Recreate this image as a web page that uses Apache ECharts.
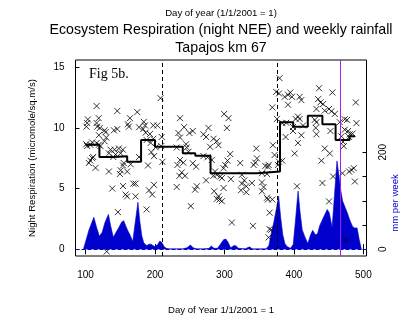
<!DOCTYPE html>
<html><head><meta charset="utf-8">
<script src="https://cdn.jsdelivr.net/npm/echarts@6/dist/echarts.min.js"></script>
<style>html,body{margin:0;padding:0;background:#fff}#c{width:414px;height:320px}</style>
</head><body><div id="c"></div>
<script>
// ---- data ----
const xTicks = [100, 200, 300, 400, 500];
const respTicks = [0, 5, 10, 15];
const rainTicks = [0, 50, 100, 150, 200];
const rainLabelTicks = [0, 200];
const dashedDays = [210.5, 375.6];
const purpleDays = [466];

const respDay = [208,116,145.7,174.5,103.4,119,164,102.4,116,184,161,101.4,116.8,120.7,185.6,197.6,203.4,162.5,127.4,128.9,145.7,140.9,177,183,186.6,119.2,192.8,209.7,197.6,188,129.8,127.4,193.8,102.4,109.6,116,119.2,107,101,121.6,209,201,136,141.8,148,153.8,150.5,133.7,143.3,194.8,198.6,111,109.6,140,107,104.8,114.4,155,154,165,190,210.7,177,133.7,150.5,160,149.5,138.5,154,168.8,172,198.6,191.4,196,157.7,160,172,146.7,188,130.5,
299.6,305.9,236.1,241.9,254.4,249.6,233.7,303.5,277,269.8,273.6,236.1,284.2,289,291.4,279.4,244.8,231.3,245.7,345.8,248.2,308.3,269.8,275.6,281.8,346.8,304.4,322.7,236.1,240.9,254.4,259.2,301,298.7,342,344.4,358.8,363.6,232.3,238.5,243.3,235.2,286.6,289,293.9,296.3,284.2,325.1,354,361.2,273.6,309.2,328.5,325.1,339.5,331.4,354,356.4,231.3,260.2,257.8,285.2,298.7,323.7,331.4,354,361.2,291.4,296.3,292.9,289,251.5,365,310.7,341,365,363.6,
379.4,374.6,378.5,436.2,455.4,394.8,391.5,386.7,408.3,397.2,410.7,434.8,438.1,442,391.5,489.1,368.9,432.4,450.6,454,458.8,444.4,375.6,405.9,402.5,408.3,430,473.2,476.6,432.4,466,490,383.3,389,413.1,398.7,431.4,452.6,473.2,432.4,398.7,410.7,388.1,478,480.4,484.3,479.5,468.4,470.8,471.8,405.9,369.8,444.4,451.6,401.1,372.2,439.6,378.5,383.3,377,362.6,469.9,479.5,482.9,486.2,456.4,487.7,441,404.5,362.6,368.9,450.6,367.4,474.7];
const respVal = [12.45,11.8,11.4,11.3,10.7,10.8,10.8,10.4,10.4,10.5,10.3,10.1,10.1,10.0,10.2,10.2,10.2,10.1,9.8,9.65,9.9,9.8,10.05,9.9,9.6,9.4,9.5,9.25,9.1,9.0,9.2,8.9,8.76,8.5,8.8,8.75,8.6,8.6,8.65,8.5,8.5,8.4,8.2,8.2,8.3,8.2,7.9,7.9,7.8,8.0,7.67,7.6,7.5,7.6,7.3,7.1,6.7,7.1,6.9,7.0,6.9,7.2,7.6,6.4,6.5,6.4,6.2,5.0,5.2,5.4,5.4,5.3,4.85,4.5,4.5,4.35,4.35,3.05,3.27,-0.2,
11.15,10.8,10.8,10.06,9.74,9.58,9.58,9.99,10.0,9.47,9.25,9.2,9.1,8.9,8.57,8.44,8.65,8.38,8.38,8.3,8.03,7.84,7.67,7.57,7.35,7.48,7.3,7.1,7.35,7.13,7.08,6.8,6.94,6.67,6.94,7.13,6.86,6.94,6.94,6.32,6.05,6.05,6.4,6.13,5.99,5.86,6.05,6.13,6.26,6.2,5.67,5.77,5.67,5.4,5.45,5.18,5.5,5.12,5.12,5.18,4.9,4.77,5.04,4.85,4.69,4.77,4.23,4.36,3.95,4.09,4.14,3.55,3.0,2.19,1.92,1.64,0.96,
14.1,12.97,12.84,13.27,12.92,12.92,12.73,12.56,12.56,12.56,12.29,12.37,12.1,11.97,11.91,12.1,11.69,11.56,11.56,11.37,11.15,11.42,10.74,10.93,10.74,10.74,10.66,10.71,10.66,10.47,10.47,10.39,10.39,10.42,10.2,10.07,10.0,9.74,9.85,9.47,9.74,9.39,9.25,9.74,9.47,9.52,9.25,9.3,8.84,8.49,8.76,8.57,8.3,7.89,7.89,7.76,7.29,7.21,7.29,6.94,6.8,6.26,6.4,6.53,6.67,5.99,5.58,5.45,5.18,4.09,4.09,3.93,1.59,0.77];

const stepDay = [100,120,140,160,180,200,240,258,280,347,380,399,420,441,460,480,488];
const stepVal = [8.6,7.6,7.65,7.2,9.0,8.45,7.9,7.7,6.25,6.4,10.47,10.1,11.0,10.3,9.0,9.3,9.3];

const rainDay = [97,100,105,112,116,120,124,128,133,136,140,144,148,152,155,158,161,164,168,172,175.5,178,181,184,188,193,196,200,204,207,210,213,216,220,230,240,246,251,255,260,270,278,281,285,290,295,299,302,305,309,314,317,320,330,336,340,350,360,364,367,371,375,378,381,384,387,390,395,399,402,406,409,412,416,420,424,427,431,434,437,440,444,448,451,455,462,465,467,470,473,477,480,484,487,491,494,497,498];
const rainMm = [0,15,40,66,45,27,35,55,72,50,25,35,45,56,59,48,38,30,16,60,97,60,28,13,8,11,9,5,10,17,14,6,2,1,1,1,3,9,3,1,1,2,7,2,2,12,20,21,15,3,8,7,2,1,5,1,1,1,8,30,55,85,110,65,30,12,6,2,10,55,120,75,40,25,12,30,39,30,32,48,58,70,82,75,45,182,150,126,100,89,75,62,48,44,44,20,1,0];

// ---- chart ----
const FONT = '"Liberation Sans", Arial, sans-serif';
const zip = (a, b) => a.map((v, i) => [v, b[i]]);
const chart = echarts.init(document.getElementById('c'), null, {renderer: 'canvas'});
const X0 = 75.5, X1 = 366.5, Y0 = 60, Y1 = 258.5;
const txt = {color: '#000', fontFamily: FONT, fontSize: 10};

chart.setOption({
  animation: false,
  backgroundColor: '#fff',
  grid: {left: X0, right: 414 - X1, top: Y0, bottom: 320 - Y1, show: true,
         borderColor: '#000', borderWidth: 1, backgroundColor: 'transparent'},
  xAxis: [{
    type: 'value', position: 'bottom', min: 85.6, max: 504.5,
    axisLine: {show: false}, splitLine: {show: false},
    axisTick: {show: true, inside: true, length: 5, customValues: xTicks, lineStyle: {color: '#000'}},
    axisLabel: Object.assign({customValues: xTicks, margin: 14}, txt),
    name: 'Day of Year 1/1/2001 = 1', nameLocation: 'middle', nameGap: 49,
    nameTextStyle: Object.assign({}, txt, {fontSize: 9.6})
  }, {
    type: 'value', position: 'top', min: 85.6, max: 504.5,
    axisLine: {show: false}, splitLine: {show: false},
    axisTick: {show: true, inside: true, length: 5, customValues: xTicks, lineStyle: {color: '#000'}},
    axisLabel: {show: false}
  }],
  yAxis: [{
    type: 'value', position: 'left', min: -0.57, max: 15.6,
    axisLine: {show: false}, splitLine: {show: false},
    axisTick: {show: true, inside: true, length: 4, customValues: respTicks, lineStyle: {color: '#000'}},
    axisLabel: Object.assign({customValues: respTicks, margin: 11}, txt),
    name: 'Night Respiration (micromole/sq.m/s)', nameLocation: 'middle', nameGap: 38,
    nameTextStyle: Object.assign({}, txt, {fontSize: 9.6})
  }, {
    type: 'value', position: 'right', min: -13.8, max: 390,
    axisLine: {show: false}, splitLine: {show: false},
    axisTick: {show: true, inside: true, length: 4, customValues: rainTicks, lineStyle: {color: '#000'}},
    axisLabel: Object.assign({customValues: rainLabelTicks, margin: 12, rotate: 90,
      showMinLabel: true, showMaxLabel: true, hideOverlap: false}, txt)
  }],
  graphic: [
    {type: 'text', x: 221, y: 13, style: {text: 'Day of year (1/1/2001 = 1)', align: 'center', verticalAlign: 'middle', font: '9.6px ' + FONT, fill: '#000'}},
    {type: 'text', x: 221, y: 30, style: {text: 'Ecosystem Respiration (night NEE) and weekly rainfall', align: 'center', verticalAlign: 'middle', font: '14.2px ' + FONT, fill: '#000'}},
    {type: 'text', x: 221, y: 48.5, style: {text: 'Tapajos km 67', align: 'center', verticalAlign: 'middle', font: '14.2px ' + FONT, fill: '#000'}},
    {type: 'text', x: 89, y: 74, z: 10, style: {text: 'Fig 5b.', align: 'left', verticalAlign: 'middle', font: '14px "Liberation Serif", "Times New Roman", serif', fill: '#000'}},
    {type: 'text', x: 395, y: 203, rotation: Math.PI / 2, style: {text: 'mm per week', align: 'center', verticalAlign: 'middle', font: '9.6px ' + FONT, fill: '#0000CC'}}
  ],
  series: [{
    type: 'line', xAxisIndex: 0, yAxisIndex: 1, data: zip(rainDay, rainMm),
    symbol: 'none', z: 1,
    lineStyle: {color: '#0000CC', width: 0.6},
    areaStyle: {color: '#0000CC', opacity: 1},
    markLine: {silent: true, symbol: ['none', 'none'], label: {show: false},
      lineStyle: {color: '#0000CC', type: 'dashed', width: 1}, data: [{yAxis: 0}]}
  }, {
    type: 'line', xAxisIndex: 0, yAxisIndex: 0, data: zip(stepDay, stepVal), step: 'end',
    symbol: 'none', z: 3, lineStyle: {color: '#000', width: 2}
  }, {
    type: 'scatter', xAxisIndex: 0, yAxisIndex: 0, data: zip(respDay, respVal), z: 4,
    symbol: 'path://M0,0L10,10M10,0L0,10', symbolSize: 6,
    itemStyle: {color: 'rgba(0,0,0,0)', borderColor: '#000', borderWidth: 1},
    markLine: {silent: true, symbol: ['none', 'none'], label: {show: false},
      data: dashedDays.map(d => ({xAxis: d, lineStyle: {color: '#000', type: [4, 3], width: 1}}))
        .concat(purpleDays.map(d => ({xAxis: d, lineStyle: {color: '#A020F0', type: 'solid', width: 1}})))}
  }]
});
</script></body></html>
